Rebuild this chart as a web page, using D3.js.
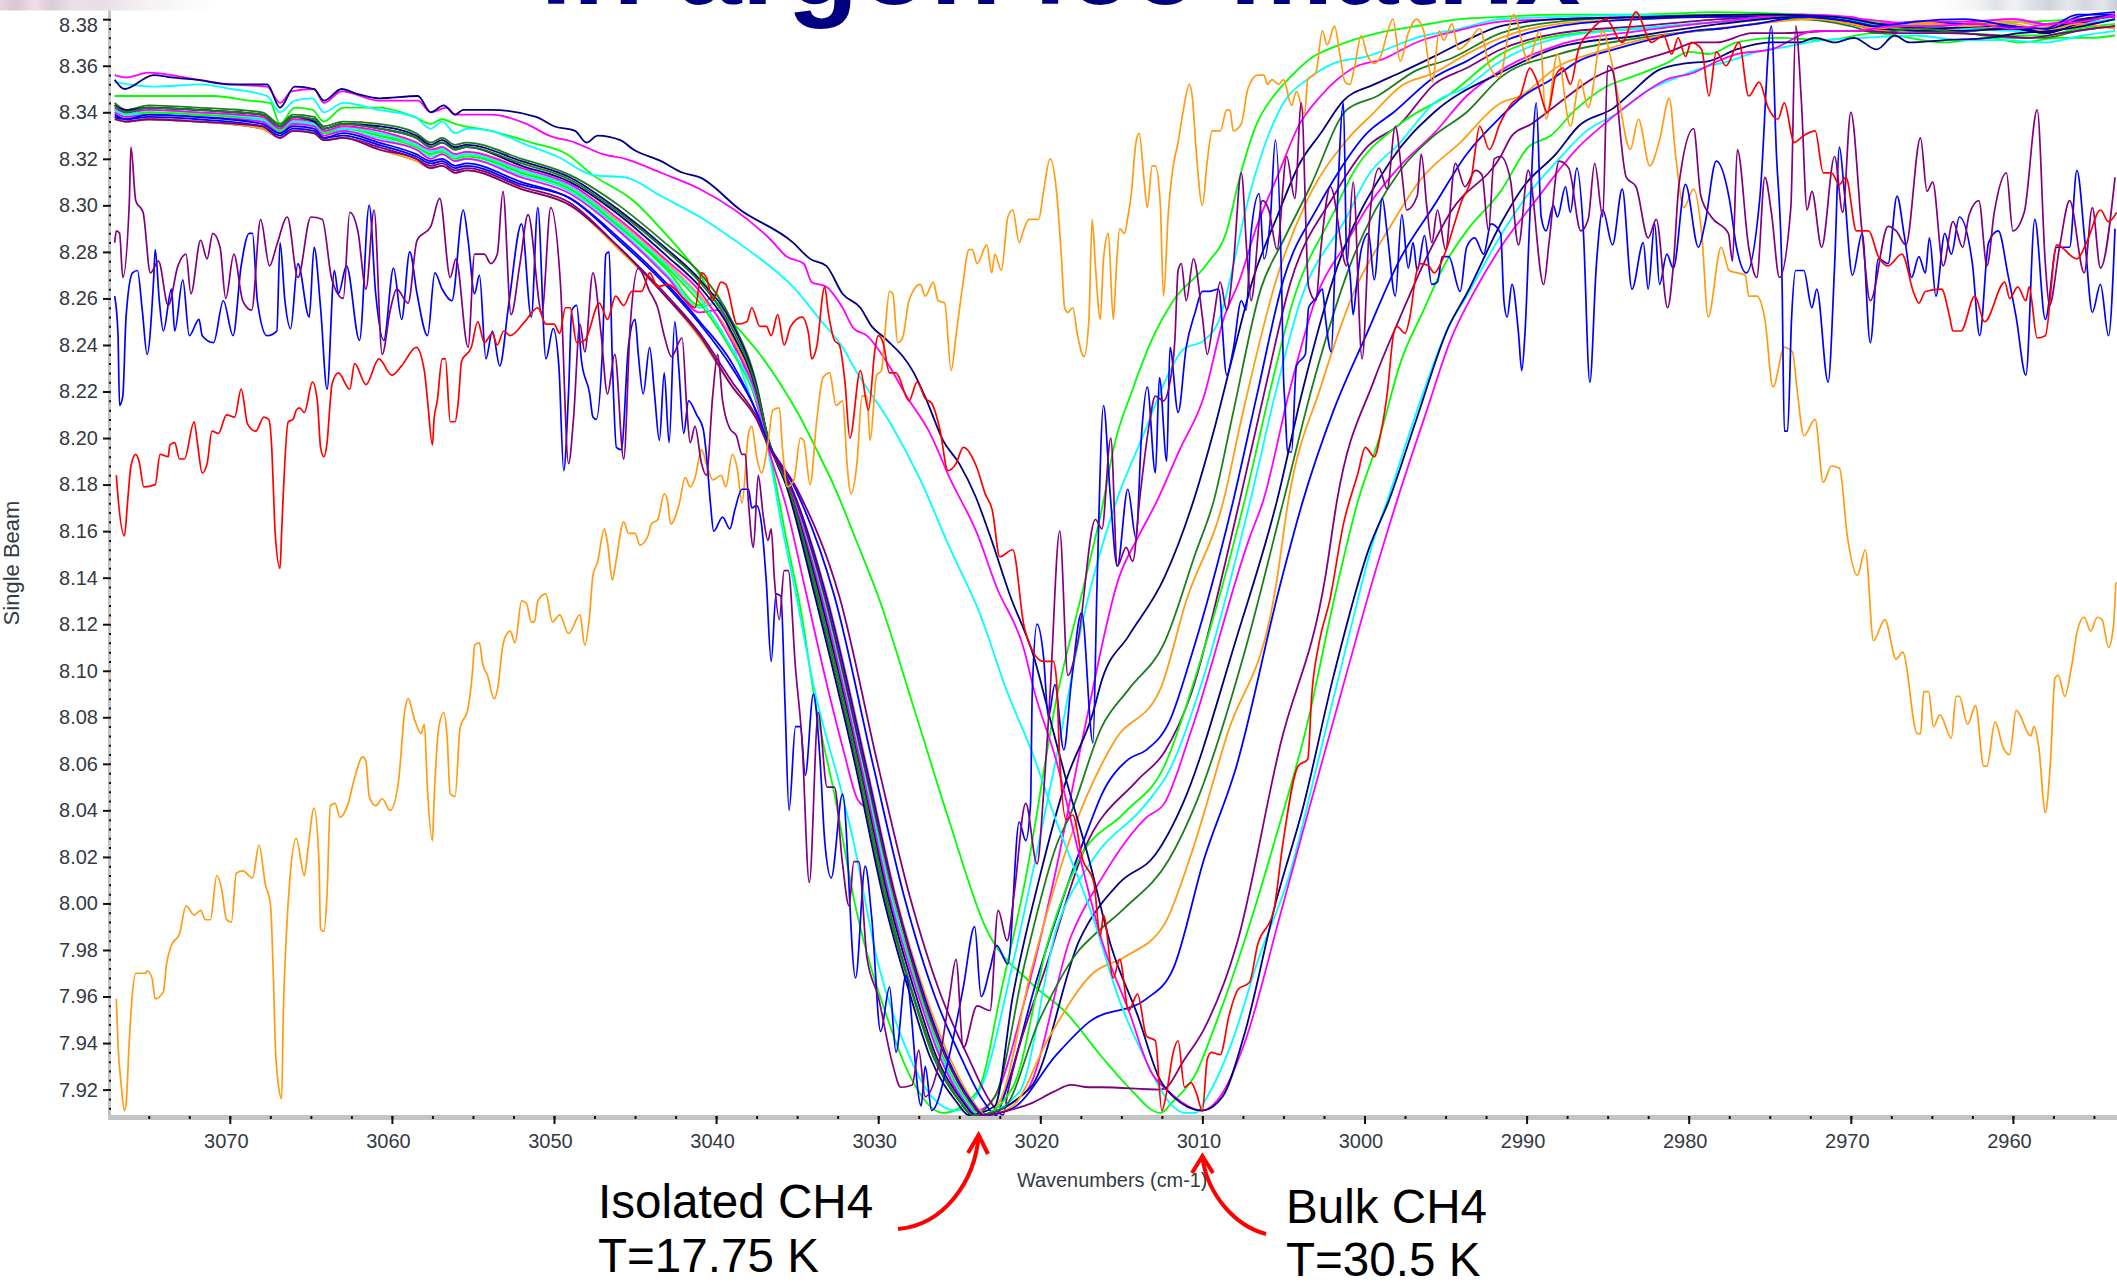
<!DOCTYPE html>
<html>
<head>
<meta charset="utf-8">
<script src="https://cdn.jsdelivr.net/npm/d3@7"></script>
<style>
  html, body { margin: 0; padding: 0; background: #fff; overflow: hidden; }
  text { font-family: "Liberation Sans", Arial, sans-serif; }
</style>
</head>
<body>
<div id="main_graphs"></div>
<script>
const yTickLabels = [8.38,8.36,8.34,8.32,8.30,8.28,8.26,8.24,8.22,8.20,8.18,8.16,8.14,8.12,8.10,8.08,8.06,8.04,8.02,8.00,7.98,7.96,7.94,7.92]
const xTickLabels = [3070,3060,3050,3040,3030,3020,3010,3000,2990,2980,2970,2960]

// noisy traces, [wavenumber, single beam]
const orangeNoisy = [[3077,7.959],[3076.9,7.94],[3076.7,7.922],[3076.5,7.911],[3076.4,7.914],[3076.2,7.941],[3076,7.962],[3075.8,7.97],[3075.2,7.97],[3075.1,7.971],[3074.8,7.968],[3074.6,7.959],[3074.1,7.962],[3073.9,7.974],[3073.6,7.982],[3073.1,7.987],[3072.7,7.999],[3072.2,7.995],[3071.8,7.997],[3071.5,7.993],[3071.2,7.993],[3070.8,8.012],[3070.5,8.006],[3070.2,7.993],[3069.9,7.992],[3069.6,8.013],[3069.2,8.014],[3068.6,8.011],[3068.2,8.025],[3067.8,8.008],[3067.5,8],[3067.3,7.966],[3067.2,7.94],[3067,7.922],[3066.8,7.916],[3066.7,7.952],[3066.5,7.988],[3066.3,8.01],[3065.9,8.028],[3065.4,8.012],[3065.2,8.022],[3064.8,8.041],[3064.5,8.018],[3064.4,7.989],[3064.2,7.988],[3064,8.004],[3063.8,8.042],[3063.5,8.043],[3063.2,8.037],[3062.7,8.043],[3062.3,8.054],[3061.8,8.063],[3061.6,8.061],[3061.4,8.046],[3061,8.042],[3060.6,8.045],[3060.1,8.04],[3059.6,8.052],[3059.2,8.083],[3059,8.088],[3058.6,8.079],[3058.2,8.073],[3058,8.077],[3057.8,8.048],[3057.5,8.027],[3057.4,8.044],[3057.1,8.076],[3056.8,8.082],[3056.6,8.072],[3056.4,8.047],[3056.1,8.046],[3055.8,8.075],[3055.3,8.084],[3055,8.102],[3054.9,8.111],[3054.6,8.112],[3054.4,8.103],[3054.1,8.098],[3053.7,8.088],[3053.4,8.096],[3053.2,8.109],[3052.9,8.116],[3052.7,8.117],[3052.4,8.112],[3052,8.13],[3051.7,8.129],[3051.4,8.121],[3051.2,8.121],[3051,8.13],[3050.5,8.133],[3050.1,8.121],[3049.65,8.124],[3049.1,8.116],[3048.4,8.124],[3048.1,8.111],[3047.8,8.124],[3047.6,8.141],[3047.3,8.147],[3046.9,8.161],[3046.7,8.155],[3046.4,8.139],[3046.2,8.146],[3045.7,8.164],[3045.4,8.159],[3045,8.159],[3044.7,8.154],[3044.2,8.158],[3044,8.163],[3043.6,8.165],[3043.2,8.176],[3043,8.173],[3042.8,8.163],[3042.3,8.171],[3041.9,8.183],[3041.6,8.179],[3041.3,8.183],[3040.9,8.195],[3040.6,8.189],[3040.2,8.182],[3039.7,8.184],[3039.4,8.179],[3039,8.193],[3038.7,8.187],[3038.4,8.172],[3038,8.202],[3037.8,8.205],[3037.5,8.192],[3037.2,8.185],[3036.8,8.198],[3036.5,8.212],[3036.1,8.213],[3035.9,8.195],[3035.6,8.179],[3035.2,8.182],[3034.8,8.2],[3034.6,8.199],[3034.2,8.18],[3033.8,8.207],[3033.4,8.226],[3033,8.228],[3032.6,8.214],[3032.2,8.216],[3031.9,8.187],[3031.7,8.176],[3031.3,8.19],[3031,8.218],[3030.7,8.218],[3030.5,8.199],[3030.1,8.227],[3029.8,8.229],[3029.6,8.244],[3029.3,8.263],[3029.1,8.262],[3028.8,8.241],[3028.5,8.243],[3028.1,8.259],[3027.4,8.266],[3027.1,8.261],[3026.6,8.267],[3026.3,8.259],[3025.9,8.258],[3025.5,8.229],[3025.2,8.244],[3024.8,8.265],[3024.4,8.281],[3024.2,8.281],[3023.9,8.275],[3023.3,8.283],[3023,8.271],[3022.8,8.279],[3022.4,8.272],[3022,8.295],[3021.7,8.298],[3021.3,8.284],[3021.05,8.289],[3020.7,8.294],[3020.1,8.294],[3019.8,8.306],[3019.4,8.32],[3019,8.306],[3018.7,8.278],[3018.5,8.256],[3018.3,8.254],[3018,8.256],[3017.7,8.244],[3017.3,8.235],[3017,8.251],[3016.8,8.294],[3016.6,8.274],[3016.3,8.251],[3016.1,8.277],[3015.8,8.288],[3015.5,8.251],[3015.3,8.274],[3015.1,8.29],[3014.8,8.288],[3014.6,8.295],[3014.4,8.304],[3014.1,8.327],[3013.9,8.331],[3013.6,8.311],[3013.4,8.299],[3013.1,8.317],[3012.9,8.317],[3012.6,8.301],[3012.4,8.261],[3012.1,8.297],[3011.8,8.317],[3011.5,8.327],[3011.2,8.34],[3010.8,8.352],[3010.6,8.345],[3010.4,8.325],[3010,8.3],[3009.7,8.319],[3009.4,8.332],[3008.9,8.332],[3008.5,8.341],[3008.3,8.341],[3008.1,8.332],[3007.6,8.335],[3007.2,8.35],[3006.6,8.356],[3006.2,8.356],[3006,8.352],[3005.7,8.354],[3005.3,8.352],[3005,8.354],[3004.5,8.343],[3004.2,8.349],[3003.7,8.339],[3003.5,8.354],[3003,8.357],[3002.6,8.375],[3002.3,8.369],[3001.85,8.377],[3001.5,8.364],[3001.2,8.353],[3000.9,8.352],[3000.6,8.36],[3000.2,8.373],[2999.85,8.365],[2999.4,8.361],[2999,8.364],[2998.6,8.374],[2998.25,8.38],[2997.8,8.362],[2997.3,8.374],[2996.8,8.38],[2996.35,8.375],[2995.8,8.353],[2995.4,8.375],[2995.1,8.371],[2994.6,8.378],[2994.2,8.367],[2993.5,8.371],[2992.9,8.376],[2992.3,8.36],[2991.7,8.355],[2990.8,8.382],[2989.9,8.362],[2989.2,8.375],[2988.8,8.337],[2988.1,8.365],[2987.3,8.334],[2986.7,8.354],[2986.2,8.342],[2985.3,8.375],[2984.8,8.363],[2984.3,8.345],[2983.6,8.324],[2983.1,8.337],[2982.4,8.317],[2981.8,8.328],[2981.2,8.346],[2980.8,8.321],[2980.3,8.299],[2979.7,8.307],[2979.2,8.288],[2978.8,8.252],[2978,8.282],[2977.5,8.272],[2976.5,8.27],[2976.3,8.261],[2975.8,8.261],[2975.3,8.251],[2974.8,8.222],[2974.1,8.239],[2973.6,8.237],[2973.3,8.22],[2972.9,8.201],[2972.2,8.208],[2971.7,8.181],[2971.2,8.188],[2970.7,8.187],[2970.2,8.157],[2969.6,8.141],[2969.1,8.152],[2968.6,8.113],[2967.9,8.122],[2967.2,8.105],[2966.8,8.108],[2965.9,8.073],[2965.7,8.073],[2965.5,8.091],[2965.2,8.091],[2964.9,8.076],[2964.5,8.081],[2963.8,8.071],[2963.5,8.089],[2963.3,8.089],[2962.8,8.077],[2962.3,8.085],[2961.8,8.059],[2961.6,8.059],[2961.1,8.078],[2960.6,8.067],[2960.2,8.064],[2959.8,8.083],[2958.9,8.072],[2958.7,8.076],[2958.4,8.067],[2958,8.039],[2957.7,8.059],[2957.4,8.097],[2957.2,8.098],[2956.8,8.089],[2956.4,8.101],[2956,8.118],[2955.6,8.123],[2955.2,8.117],[2954.8,8.123],[2954.5,8.122],[2954.1,8.11],[2953.8,8.119],[2953.65,8.138]]

const redNoisy = [[3077,8.184],[3076.9,8.175],[3076.5,8.158],[3076.3,8.173],[3076.1,8.188],[3075.8,8.193],[3075.6,8.19],[3075.3,8.179],[3074.6,8.18],[3074.3,8.193],[3073.8,8.192],[3073.7,8.197],[3073.4,8.198],[3073.1,8.191],[3072.8,8.191],[3072.2,8.207],[3072,8.198],[3071.7,8.185],[3071.4,8.189],[3071.1,8.203],[3070.7,8.202],[3070.2,8.21],[3069.7,8.209],[3069.3,8.221],[3068.9,8.206],[3068.4,8.203],[3067.9,8.209],[3067.6,8.208],[3067.4,8.194],[3067.3,8.176],[3067.2,8.159],[3066.9,8.144],[3066.8,8.16],[3066.7,8.176],[3066.4,8.207],[3066.1,8.208],[3065.9,8.212],[3065.7,8.213],[3065.4,8.211],[3064.9,8.224],[3064.6,8.216],[3064.4,8.196],[3064.2,8.192],[3064,8.198],[3063.8,8.216],[3063.7,8.223],[3063.3,8.228],[3062.6,8.221],[3062.3,8.232],[3061.6,8.223],[3060.8,8.234],[3060,8.227],[3059.4,8.231],[3058.5,8.239],[3058,8.229],[3057.8,8.216],[3057.5,8.197],[3057.4,8.208],[3057.2,8.216],[3056.9,8.234],[3056.7,8.234],[3056.4,8.207],[3056.1,8.207],[3055.9,8.216],[3055.7,8.233],[3055.1,8.239],[3054.7,8.25],[3054.3,8.241],[3053.8,8.245],[3053.5,8.24],[3053.1,8.246],[3052.7,8.244],[3051.8,8.25],[3051,8.256],[3050.5,8.249],[3050,8.249],[3049.65,8.245],[3049.3,8.256],[3049,8.256],[3048.6,8.241],[3048.1,8.242],[3047.2,8.258],[3046.7,8.251],[3046.2,8.261],[3045.7,8.257],[3045.2,8.263],[3044.6,8.263],[3044.1,8.271],[3043.6,8.265],[3043,8.266],[3042,8.26],[3041.3,8.256],[3040.9,8.271],[3040.6,8.269],[3040.2,8.259],[3039.7,8.267],[3039.4,8.266],[3038.7,8.249],[3038.1,8.25],[3037.8,8.256],[3037.3,8.248],[3036.9,8.248],[3036.6,8.244],[3036.2,8.253],[3035.8,8.24],[3035.4,8.248],[3034.7,8.252],[3034.3,8.245],[3034.1,8.234],[3033.8,8.239],[3033.3,8.265],[3033.1,8.255],[3032.7,8.242],[3032.4,8.24],[3032.05,8.224],[3031.75,8.2],[3031.1,8.229],[3030.6,8.212],[3030.2,8.238],[3030,8.244],[3029.7,8.241],[3029.3,8.228],[3028.9,8.228],[3028.1,8.216],[3027.6,8.224],[3027.1,8.217],[3026.7,8.215],[3026.2,8.204],[3025.7,8.186],[3025.2,8.189],[3024.75,8.196],[3023.9,8.187],[3023.4,8.176],[3022.96,8.169],[3022.5,8.149],[3021.7,8.152],[3021,8.119],[3020.75,8.113],[3019.8,8.104],[3019.2,8.104],[3019,8.096],[3018.8,8.061],[3018.4,8.036],[3018,8.038],[3017.4,8.019],[3016.7,8.009],[3016.3,7.986],[3016.1,7.995],[3015.5,7.968],[3015.1,7.976],[3014.55,7.954],[3014,7.961],[3013.45,7.943],[3012.9,7.941],[3012.5,7.911],[3012.2,7.919],[3011.8,7.936],[3011.5,7.941],[3011.1,7.921],[3010.7,7.923],[3010.4,7.919],[3010,7.911],[3009.7,7.933],[3009.45,7.936],[3008.9,7.935],[3008.35,7.952],[3007.8,7.963],[3007.1,7.966],[3006.6,7.982],[3005.6,7.997],[3005.05,8.025],[3004.1,8.059],[3003.5,8.062],[3003.25,8.09],[3002.8,8.112],[3002.15,8.13],[3001.3,8.163],[3000.4,8.185],[2999.95,8.196],[2999.4,8.192],[2999,8.202],[2998.6,8.219],[2998.2,8.245],[2998,8.248],[2997.5,8.245],[2997.2,8.252],[2996.8,8.271],[2996.55,8.275],[2996.05,8.274],[2995.7,8.271],[2995.3,8.275],[2994.9,8.282],[2994.5,8.291],[2994,8.302],[2993.4,8.312],[2993.2,8.322],[2992.9,8.334],[2992.3,8.324],[2991.65,8.335],[2990.9,8.344],[2990.4,8.347],[2989.8,8.359],[2989.45,8.355],[2988.7,8.34],[2988.2,8.356],[2987.75,8.359],[2987.3,8.352],[2986.8,8.367],[2986.05,8.375],[2985.1,8.38],[2984.1,8.37],[2983.25,8.383],[2982.3,8.37],[2981.55,8.373],[2981.05,8.365],[2980.65,8.372],[2980.2,8.364],[2979.85,8.37],[2979.2,8.367],[2978.75,8.347],[2978.3,8.366],[2977.7,8.36],[2976.9,8.37],[2976.3,8.347],[2975.65,8.353],[2975.1,8.342],[2974.5,8.337],[2974.1,8.344],[2973.5,8.327],[2972.9,8.33],[2972.2,8.332],[2971.7,8.314],[2971.2,8.314],[2970.7,8.309],[2970.3,8.312],[2969.65,8.289],[2968.9,8.289],[2968.3,8.278],[2967.7,8.274],[2966.85,8.279],[2966.1,8.262],[2965.8,8.258],[2965.4,8.263],[2964.4,8.264],[2963.9,8.252],[2963.7,8.246],[2963.2,8.246],[2962.35,8.261],[2961.75,8.25],[2960.5,8.267],[2960.2,8.26],[2959.7,8.265],[2959.2,8.259],[2959,8.265],[2958.5,8.243],[2958,8.244],[2957.3,8.283],[2956.05,8.277],[2955.4,8.285],[2954.6,8.298],[2954.1,8.293],[2953.6,8.297]]

const blueNoisy = [[3077.1,8.261],[3076.9,8.245],[3076.8,8.214],[3076.6,8.218],[3076.4,8.252],[3076,8.271],[3075.7,8.272],[3075.4,8.255],[3075.1,8.236],[3074.7,8.268],[3074.6,8.281],[3074.35,8.259],[3074.1,8.246],[3073.6,8.264],[3073.4,8.246],[3072.9,8.268],[3072.5,8.244],[3071.9,8.251],[3071.7,8.244],[3071,8.241],[3070.4,8.259],[3069.8,8.244],[3069.3,8.274],[3068.8,8.288],[3068.6,8.288],[3068.3,8.259],[3067.7,8.244],[3067.1,8.246],[3066.9,8.284],[3066.6,8.259],[3066.25,8.247],[3065.8,8.275],[3065.1,8.252],[3064.8,8.282],[3064.4,8.256],[3064,8.221],[3063.55,8.272],[3063.3,8.262],[3062.8,8.274],[3062,8.242],[3061.4,8.3],[3061,8.262],[3060.5,8.242],[3059.9,8.273],[3059.4,8.251],[3058.9,8.28],[3058.45,8.262],[3057.8,8.244],[3057.35,8.271],[3056.9,8.264],[3056.3,8.259],[3055.6,8.298],[3055.3,8.285],[3054.9,8.262],[3054.6,8.27],[3054.2,8.234],[3053.8,8.246],[3053.35,8.231],[3052.8,8.257],[3052,8.292],[3051.4,8.252],[3051,8.299],[3050.5,8.234],[3050.05,8.247],[3049.7,8.231],[3049.4,8.186],[3049.1,8.22],[3048.9,8.255],[3048.6,8.257],[3048.3,8.233],[3047.8,8.219],[3047.6,8.209],[3047.4,8.208],[3047,8.24],[3046.8,8.279],[3046.6,8.28],[3046.4,8.233],[3046.15,8.196],[3045.85,8.195],[3045.4,8.24],[3045,8.251],[3044.8,8.236],[3044.5,8.219],[3044.1,8.239],[3043.8,8.219],[3043.5,8.199],[3043.2,8.228],[3042.9,8.198],[3042.55,8.25],[3042.3,8.23],[3042,8.202],[3041.7,8.216],[3041.2,8.21],[3040.8,8.204],[3040.6,8.193],[3040.35,8.172],[3040.15,8.16],[3039.6,8.166],[3039.15,8.161],[3038.85,8.169],[3038.4,8.178],[3038,8.178],[3037.8,8.17],[3037.5,8.171],[3037.2,8.163],[3036.9,8.138],[3036.6,8.104],[3036.3,8.133],[3036,8.132],[3035.75,8.086],[3035.5,8.04],[3035.1,8.076],[3034.8,8.076],[3034.5,8.055],[3034,8.09],[3033.6,8.063],[3033.3,8.027],[3032.9,8.011],[3032.2,8.047],[3031.4,7.968],[3030.8,8.016],[3030.4,7.994],[3029.85,7.945],[3029.3,7.964],[3028.9,7.936],[3028.3,7.969],[3027.35,7.913],[3027.1,7.93],[3026.7,7.911],[3025.6,7.935],[3024.75,7.964],[3024.05,7.99],[3023.65,7.96],[3023.1,7.972],[3022.7,7.982],[3022,7.974],[3021.3,8.035],[3020.9,8.027],[3020.6,8.043],[3020.5,8.09],[3020.2,8.12],[3019.8,8.106],[3019.5,8.08],[3019.1,8.094],[3018.55,8.066],[3018.1,8.094],[3017.45,8.125],[3016.75,8.069],[3016.5,8.137],[3016.1,8.214],[3015.7,8.177],[3015.25,8.145],[3014.6,8.178],[3014.1,8.157],[3013.75,8.202],[3013.4,8.222],[3012.9,8.185],[3012.65,8.226],[3012.2,8.19],[3012,8.239],[3011.5,8.211],[3011,8.239],[3010.45,8.254],[3010,8.263],[3009.6,8.263],[3009,8.264],[3008.5,8.227],[3008.1,8.238],[3007.6,8.259],[3007.3,8.255],[3007,8.288],[3006.5,8.305],[3006.2,8.277],[3005.8,8.295],[3005.5,8.328],[3005.1,8.262],[3005,8.227],[3004.9,8.214],[3004.75,8.194],[3004.5,8.194],[3004.2,8.231],[3003.65,8.236],[3003.45,8.256],[3003,8.26],[3002.6,8.264],[3002.4,8.251],[3002.05,8.237],[3001.8,8.278],[3001.3,8.344],[3001.1,8.278],[3000.9,8.271],[3000.7,8.253],[3000.5,8.265],[3000.2,8.281],[2999.75,8.288],[2999.4,8.268],[2998.9,8.303],[2998.6,8.288],[2998.1,8.261],[2997.7,8.296],[2997.3,8.273],[2997,8.284],[2996.75,8.272],[2996.3,8.287],[2995.85,8.266],[2995.5,8.267],[2995.2,8.278],[2994.8,8.278],[2994.1,8.263],[2993.7,8.282],[2993.2,8.286],[2992.65,8.279],[2992.2,8.292],[2991.6,8.288],[2991.4,8.259],[2991.2,8.252],[2990.9,8.266],[2990.5,8.245],[2990.3,8.229],[2990.1,8.245],[2989.8,8.295],[2989.4,8.344],[2989.1,8.295],[2988.8,8.289],[2988.35,8.3],[2988.1,8.295],[2987.6,8.308],[2987.3,8.297],[2986.9,8.316],[2986.5,8.289],[2986.1,8.224],[2985.7,8.274],[2985.3,8.298],[2984.7,8.283],[2984.1,8.307],[2983.5,8.264],[2982.8,8.284],[2982.5,8.264],[2982.1,8.292],[2981.8,8.266],[2981.35,8.279],[2980.95,8.273],[2980.2,8.309],[2979.4,8.282],[2979,8.292],[2978.3,8.319],[2977.5,8.303],[2977.05,8.282],[2976.45,8.271],[2975.6,8.304],[2974.9,8.377],[2974.6,8.324],[2974.25,8.271],[2974.1,8.203],[2973.9,8.203],[2973.65,8.252],[2973.4,8.272],[2972.9,8.272],[2972.4,8.256],[2972.1,8.264],[2971.4,8.224],[2971,8.274],[2970.7,8.325],[2970.4,8.306],[2969.9,8.27],[2969.3,8.288],[2968.8,8.241],[2968.3,8.277],[2967.7,8.275],[2967.15,8.304],[2966.7,8.287],[2966.25,8.269],[2965.8,8.278],[2965.4,8.271],[2965.15,8.286],[2964.75,8.261],[2964.2,8.288],[2963.8,8.279],[2963.3,8.295],[2962.5,8.275],[2962.05,8.244],[2961.5,8.284],[2960.9,8.289],[2960.3,8.27],[2959.8,8.252],[2959.2,8.227],[2958.65,8.294],[2958,8.251],[2957.3,8.282],[2956.5,8.282],[2956.05,8.315],[2955.55,8.284],[2955.1,8.254],[2954.6,8.266],[2954.1,8.244],[2953.7,8.29]]

const purpleNoisy = [[3077.1,8.284],[3077,8.289],[3076.8,8.288],[3076.6,8.269],[3076.2,8.301],[3076.1,8.325],[3075.8,8.302],[3075.35,8.297],[3074.9,8.271],[3074.4,8.276],[3073.8,8.257],[3073.2,8.274],[3072.7,8.279],[3072.4,8.262],[3071.8,8.285],[3071.4,8.277],[3071.05,8.288],[3070.6,8.282],[3070.25,8.26],[3069.75,8.279],[3069.2,8.259],[3068.65,8.255],[3068.1,8.294],[3067.55,8.274],[3067.1,8.283],[3066.45,8.295],[3065.8,8.269],[3065,8.295],[3064.3,8.294],[3063.7,8.268],[3063,8.26],[3062.6,8.297],[3062.1,8.289],[3061.6,8.264],[3061.1,8.298],[3060.6,8.236],[3060.1,8.255],[3059.7,8.264],[3059,8.258],[3058.45,8.285],[3057.6,8.291],[3057.05,8.303],[3056.4,8.269],[3056.05,8.277],[3055.3,8.239],[3054.9,8.279],[3054.3,8.279],[3053.9,8.275],[3053.5,8.279],[3053.15,8.306],[3052.65,8.253],[3052.1,8.275],[3051.6,8.296],[3050.75,8.254],[3050.2,8.299],[3049.6,8.266],[3049.1,8.189],[3048.8,8.208],[3048.4,8.249],[3048.1,8.237],[3047.6,8.271],[3047.1,8.245],[3046.7,8.219],[3046.25,8.236],[3045.7,8.191],[3045.3,8.248],[3044.8,8.273],[3044.1,8.263],[3043.6,8.256],[3043.2,8.244],[3042.75,8.235],[3042.1,8.243],[3041.8,8.212],[3041.6,8.198],[3041.3,8.205],[3040.9,8.189],[3040.6,8.184],[3040.2,8.219],[3039.9,8.236],[3039.6,8.216],[3039.15,8.204],[3038.75,8.201],[3038.4,8.193],[3038.2,8.193],[3038,8.172],[3037.7,8.153],[3037.4,8.184],[3037.1,8.167],[3036.8,8.156],[3036.6,8.161],[3036.4,8.139],[3036.1,8.122],[3035.8,8.143],[3035.55,8.143],[3035.1,8.101],[3034.7,8.07],[3034.25,8.009],[3033.7,8.082],[3033.15,8.05],[3032.7,8.05],[3032.2,8.017],[3031.8,7.999],[3031.5,8.018],[3031.2,8.018],[3030.7,7.977],[3030,7.96],[3029.15,7.932],[3028.6,7.921],[3027.9,7.922],[3027.5,7.937],[3027.1,7.917],[3026.3,7.93],[3025.6,7.96],[3025.2,7.976],[3024.75,7.938],[3023.9,7.956],[3023.1,7.954],[3022.6,7.997],[3022.05,7.984],[3021.6,8.005],[3020.9,8.043],[3020.2,8.017],[3019.8,8.047],[3019.4,8.09],[3018.8,8.16],[3018.3,8.098],[3017.7,8.112],[3016.6,8.165],[3016.2,8.161],[3015.65,8.2],[3015.25,8.145],[3014.7,8.153],[3014.3,8.147],[3013.85,8.175],[3013.3,8.205],[3012.9,8.218],[3012.4,8.216],[3012,8.224],[3011.7,8.242],[3011.5,8.272],[3011.3,8.275],[3011,8.259],[3010.55,8.277],[3010,8.252],[3009.7,8.236],[3009.3,8.252],[3008.9,8.267],[3008.5,8.255],[3008.1,8.274],[3007.6,8.314],[3007.25,8.279],[3007,8.259],[3006.3,8.302],[3005.9,8.298],[3005.4,8.281],[3004.8,8.321],[3004.3,8.303],[3003.9,8.344],[3003.45,8.265],[3003,8.259],[3002.7,8.281],[3002.1,8.308],[3001.1,8.274],[3000.7,8.31],[3000.15,8.234],[2999.65,8.297],[2999.1,8.316],[2998.6,8.307],[2998.1,8.334],[2997.7,8.314],[2997.4,8.298],[2996.75,8.304],[2996.5,8.322],[2996.15,8.299],[2995.85,8.284],[2995.5,8.298],[2995,8.281],[2994.4,8.318],[2993.8,8.308],[2993.15,8.315],[2992.75,8.313],[2992.35,8.289],[2992,8.32],[2991.6,8.321],[2991,8.311],[2990.5,8.283],[2989.9,8.315],[2988.95,8.266],[2988.6,8.285],[2988,8.319],[2987.4,8.316],[2986.65,8.289],[2986.2,8.294],[2985.8,8.318],[2985.3,8.295],[2985,8.36],[2984.7,8.358],[2983.85,8.312],[2983.25,8.308],[2982.5,8.286],[2982,8.294],[2981.3,8.256],[2980.95,8.274],[2980.6,8.309],[2979.7,8.333],[2979.25,8.304],[2978.6,8.295],[2977.55,8.288],[2977.3,8.276],[2977,8.324],[2976.3,8.282],[2975.8,8.269],[2975.3,8.312],[2974.9,8.297],[2974.4,8.269],[2973.7,8.299],[2973.4,8.377],[2973.05,8.345],[2972.7,8.298],[2972.4,8.306],[2971.8,8.282],[2971,8.321],[2970.5,8.297],[2970,8.34],[2969.3,8.288],[2968.8,8.259],[2967.7,8.291],[2967.2,8.289],[2966.6,8.283],[2965.7,8.329],[2965.3,8.306],[2964.95,8.31],[2964.3,8.274],[2963.7,8.293],[2963.1,8.282],[2962.7,8.296],[2962.1,8.302],[2961.6,8.274],[2961.15,8.297],[2960.4,8.314],[2960,8.289],[2959.3,8.297],[2958.5,8.341],[2958,8.275],[2957.75,8.257],[2957.1,8.283],[2956.5,8.302],[2955.6,8.271],[2955.1,8.299],[2954.6,8.273],[2953.7,8.312]]

// the four curves that stay apart on the shoulder
const navyBulk = [[3077.1,8.354],[3076.5,8.35],[3074.7,8.356],[3073.6,8.355],[3072.1,8.354],[3069.9,8.352],[3067.7,8.352],[3066.9,8.342],[3066,8.351],[3064.8,8.35],[3064.2,8.345],[3063.1,8.35],[3062.2,8.348],[3060.8,8.346],[3058.4,8.347],[3057.6,8.34],[3056.8,8.343],[3056.1,8.339],[3055.6,8.341],[3053.9,8.341],[3051.1,8.338],[3050,8.334],[3048.7,8.332],[3048,8.327],[3047.3,8.33],[3045.9,8.328],[3045.1,8.324],[3043.4,8.319],[3042.05,8.314],[3041,8.312],[3038.5,8.298],[3035.25,8.284],[3034.2,8.277],[3033.2,8.274],[3032.2,8.262],[3031.1,8.256],[3030.4,8.248],[3029.6,8.243],[3027.8,8.228],[3027,8.216],[3026,8.199],[3025,8.189],[3024,8.175],[3023.1,8.158],[3021.9,8.133],[3020.4,8.106],[3019.2,8.074],[3018.4,8.053],[3017,8.019],[3015.65,7.982],[3014,7.952],[3012.6,7.924],[3011.8,7.917],[3010,7.911],[3008.75,7.917],[3007.4,7.944],[3005.45,8.001],[3003.8,8.041],[3001.9,8.098],[2999.7,8.153],[2998.5,8.173],[2996.8,8.208],[2994.8,8.248],[2993.7,8.262],[2991.6,8.292],[2990.2,8.308],[2988.2,8.322],[2986.8,8.334],[2984.6,8.342],[2983.6,8.348],[2981.9,8.358],[2980.2,8.361],[2978.75,8.362],[2977.05,8.367],[2974.9,8.37],[2973.2,8.37],[2972.2,8.372],[2971,8.37],[2969.8,8.372],[2968.4,8.367],[2967.3,8.373],[2966.4,8.37],[2964.2,8.371],[2961.5,8.372],[2959.6,8.374],[2957.6,8.375],[2955.7,8.377],[2953.7,8.38]]

const magentaBulk = [[3077.1,8.356],[3076.4,8.355],[3075,8.357],[3073.6,8.356],[3072,8.354],[3070,8.352],[3067.7,8.351],[3066.9,8.344],[3066.2,8.349],[3064.8,8.35],[3064.2,8.344],[3063.1,8.349],[3060.8,8.345],[3058.4,8.345],[3057.6,8.34],[3056.6,8.342],[3056.1,8.339],[3053.9,8.339],[3051.7,8.335],[3050.3,8.33],[3048.7,8.327],[3047,8.322],[3045.6,8.32],[3043.4,8.314],[3041,8.307],[3036.6,8.285],[3035.65,8.278],[3034.6,8.275],[3034.1,8.267],[3033.2,8.265],[3032.2,8.256],[3031.5,8.247],[3030.7,8.244],[3029.5,8.233],[3028.25,8.218],[3026.8,8.202],[3025.6,8.183],[3023.9,8.159],[3022.7,8.136],[3021,8.109],[3020.4,8.092],[3019,8.061],[3017.6,8.021],[3016.2,7.984],[3014.55,7.954],[3013.2,7.928],[3012.05,7.919],[3010,7.911],[3008.9,7.917],[3007.4,7.94],[3005.2,7.995],[3003.25,8.045],[3001.3,8.094],[2999.4,8.141],[2998,8.173],[2996.15,8.212],[2994.7,8.242],[2993.3,8.262],[2991.6,8.282],[2989.45,8.302],[2986.8,8.325],[2985.2,8.335],[2983.4,8.345],[2981.4,8.354],[2979.7,8.357],[2978.5,8.361],[2977.05,8.365],[2974.9,8.367],[2972.2,8.375],[2969.8,8.375],[2967.3,8.377],[2964.9,8.377],[2962.5,8.378],[2960,8.376],[2957.6,8.378],[2955.7,8.379],[2953.7,8.382]]

const cyanBulk = [[3077.1,8.353],[3074.6,8.351],[3071.8,8.352],[3069.9,8.35],[3067.7,8.347],[3066.9,8.34],[3066,8.345],[3064.9,8.346],[3064.2,8.34],[3063,8.344],[3060.8,8.341],[3058.6,8.338],[3057.6,8.333],[3056.9,8.336],[3056.1,8.331],[3055.3,8.333],[3053.9,8.332],[3051.7,8.326],[3049.8,8.321],[3047.6,8.313],[3045.6,8.312],[3043.4,8.304],[3041,8.295],[3038.85,8.285],[3036.9,8.275],[3035.25,8.265],[3033.6,8.251],[3032.2,8.239],[3031.3,8.228],[3029.3,8.207],[3027.4,8.182],[3025.6,8.153],[3023.7,8.124],[3022.1,8.092],[3020.4,8.063],[3019,8.035],[3016.75,7.994],[3015.1,7.958],[3013.45,7.932],[3012.1,7.915],[3011.1,7.91],[3010.4,7.91],[3009.7,7.917],[3008.2,7.94],[3006.55,7.976],[3004.6,8.013],[3002.8,8.063],[3001,8.114],[2999.4,8.157],[2998.6,8.173],[2996.8,8.211],[2994.8,8.248],[2993.7,8.261],[2991.6,8.287],[2990.2,8.302],[2988,8.32],[2986.3,8.332],[2984.3,8.34],[2982.6,8.349],[2980.7,8.355],[2979.2,8.359],[2977.5,8.362],[2975.8,8.366],[2974.1,8.368],[2971.7,8.371],[2969.3,8.372],[2966.1,8.373],[2963,8.371],[2960.5,8.371],[2958.1,8.37],[2955.7,8.373],[2953.7,8.375]]

const limeBulk = [[3077.1,8.347],[3076,8.347],[3073.2,8.347],[3071,8.347],[3068.8,8.345],[3067.5,8.344],[3066.9,8.335],[3066,8.342],[3064.9,8.341],[3064.2,8.336],[3063,8.342],[3060.8,8.342],[3058.6,8.338],[3057.6,8.335],[3056.9,8.337],[3056.1,8.335],[3053.9,8.332],[3051.4,8.327],[3049.2,8.322],[3047.6,8.313],[3045.1,8.302],[3042.9,8.286],[3041,8.27],[3039.8,8.256],[3038.5,8.246],[3037.3,8.236],[3036.1,8.224],[3034.9,8.21],[3033.8,8.195],[3032.7,8.179],[3031.3,8.155],[3030,8.132],[3027.8,8.084],[3025.6,8.035],[3023.4,7.99],[3020.6,7.966],[3018.4,7.953],[3016.2,7.934],[3014.55,7.921],[3012.6,7.91],[3011.8,7.915],[3010.4,7.927],[3009.3,7.946],[3007.4,7.984],[3005.45,8.029],[3003.5,8.078],[3001.9,8.13],[3000.4,8.173],[2999,8.202],[2997.8,8.232],[2996.35,8.255],[2995.1,8.274],[2993.7,8.289],[2991.6,8.306],[2989.9,8.325],[2988.5,8.33],[2987,8.341],[2985.1,8.351],[2983.6,8.355],[2981.4,8.361],[2979.95,8.366],[2978.75,8.365],[2977.05,8.37],[2974.6,8.372],[2971.5,8.371],[2968.55,8.374],[2964.2,8.37],[2961.5,8.372],[2959.6,8.37],[2957.1,8.372],[2955.2,8.372],[2953.7,8.373]]

// the bunch shares one wavenumber grid along the shoulder
const shoulderW = [3077.1,3076.4,3075,3072,3068,3066.9,3066.1,3064.8,3064.2,3063,3060.8,3058.5,3057.6,3056.9,3056.1,3055.4,3052,3049,3046,3043,3041]

const shoulderGreen1 = [8.344,8.341,8.343,8.342,8.34,8.335,8.339,8.338,8.334,8.336,8.335,8.331,8.327,8.329,8.326,8.327,8.32,8.313,8.3,8.283,8.271]
const shoulderNavy1 = [8.343,8.341,8.342,8.341,8.339,8.334,8.338,8.337,8.333,8.335,8.334,8.33,8.326,8.328,8.325,8.326,8.319,8.312,8.298,8.281,8.268]
const shoulderGreen2 = [8.343,8.34,8.342,8.341,8.339,8.334,8.338,8.337,8.333,8.335,8.333,8.329,8.325,8.327,8.324,8.325,8.318,8.311,8.297,8.28,8.267]
const shoulderNavy2 = [8.343,8.34,8.342,8.341,8.339,8.334,8.338,8.336,8.333,8.335,8.333,8.329,8.325,8.327,8.324,8.325,8.317,8.31,8.296,8.278,8.265]
const shoulderMagenta2 = [8.342,8.34,8.341,8.34,8.338,8.333,8.337,8.336,8.332,8.334,8.332,8.327,8.324,8.325,8.322,8.323,8.316,8.309,8.294,8.276,8.263]
const shoulderOrange1 = [8.342,8.339,8.341,8.34,8.338,8.333,8.337,8.336,8.332,8.334,8.331,8.327,8.323,8.325,8.322,8.323,8.315,8.308,8.293,8.275,8.261]
const shoulderCyan2 = [8.341,8.339,8.341,8.34,8.337,8.333,8.336,8.335,8.332,8.333,8.331,8.326,8.323,8.324,8.321,8.322,8.315,8.308,8.292,8.274,8.26]
const shoulderLime2 = [8.341,8.339,8.34,8.339,8.337,8.332,8.336,8.335,8.331,8.333,8.33,8.326,8.322,8.324,8.321,8.322,8.314,8.307,8.291,8.273,8.258]
const shoulderLime1 = [8.341,8.339,8.34,8.339,8.337,8.332,8.336,8.335,8.331,8.333,8.33,8.325,8.322,8.323,8.32,8.321,8.314,8.307,8.291,8.272,8.257]
const shoulderCyan1 = [8.34,8.338,8.34,8.339,8.336,8.332,8.335,8.334,8.331,8.332,8.329,8.324,8.321,8.322,8.319,8.32,8.313,8.306,8.29,8.27,8.256]
const shoulderMagenta1 = [8.34,8.338,8.339,8.338,8.336,8.331,8.335,8.334,8.33,8.332,8.328,8.324,8.32,8.322,8.319,8.32,8.312,8.305,8.289,8.269,8.254]
const shoulderBlue1 = [8.339,8.337,8.339,8.338,8.335,8.331,8.334,8.333,8.329,8.331,8.327,8.322,8.319,8.32,8.317,8.318,8.31,8.303,8.286,8.266,8.25]
const shoulderBlue2 = [8.338,8.337,8.338,8.337,8.334,8.33,8.333,8.332,8.329,8.33,8.326,8.321,8.318,8.319,8.316,8.317,8.309,8.303,8.285,8.265,8.249]
const shoulderPurple1 = [8.338,8.336,8.337,8.336,8.333,8.329,8.332,8.331,8.328,8.329,8.325,8.32,8.317,8.318,8.315,8.316,8.308,8.301,8.282,8.261,8.245]
const shoulderOrange2 = [8.337,8.336,8.337,8.336,8.333,8.329,8.332,8.331,8.328,8.329,8.324,8.319,8.316,8.317,8.314,8.315,8.307,8.3,8.281,8.26,8.243]
const shoulderPurple2 = [8.337,8.336,8.337,8.336,8.334,8.329,8.332,8.331,8.328,8.329,8.324,8.32,8.316,8.317,8.314,8.315,8.307,8.3,8.282,8.26,8.244]

// rest of each bunch curve, past the shoulder
const restGreen1 = [[3039,8.25],[3037.5,8.223],[3036.8,8.2],[3035.55,8.178],[3033.8,8.132],[3031.3,8.059],[3029.6,8.003],[3027.85,7.96],[3026.6,7.934],[3025,7.915],[3024.2,7.909],[3022.8,7.917],[3020.9,7.976],[3019,8.025],[3018.1,8.039],[3016.2,8.076],[3014.55,8.092],[3012.35,8.112],[3010.4,8.151],[3009.3,8.173],[3008.1,8.211],[3006.4,8.264],[3005,8.285],[3003.35,8.308],[3001.1,8.341],[2999.2,8.347],[2996.8,8.358],[2994.7,8.363],[2991.6,8.374],[2988,8.379],[2983,8.381],[2978,8.382],[2973,8.382],[2970,8.379],[2968.3,8.376],[2966,8.377],[2963,8.376],[2960,8.376],[2958,8.374],[2956,8.379],[2953.7,8.382]]
const restNavy1 = [[3039,8.249],[3037.5,8.222],[3036.8,8.2],[3035.6,8.178],[3033.9,8.132],[3031.4,8.059],[3029.7,8.003],[3028,7.96],[3026.8,7.934],[3025.2,7.915],[3024.4,7.909],[3022.8,7.913],[3021.7,7.96],[3020.05,8.011],[3018.4,8.053],[3016.75,8.082],[3016.2,8.096],[3014.55,8.115],[3012.35,8.14],[3010.55,8.173],[3009.3,8.203],[3008.1,8.236],[3006.85,8.269],[3005.4,8.295],[3004,8.318],[3002.7,8.331],[3001.3,8.345],[2999.4,8.352],[2997.8,8.357],[2995.7,8.364],[2993.7,8.371],[2991.6,8.377],[2988,8.38],[2981.9,8.381],[2975.8,8.382],[2971,8.381],[2968.3,8.378],[2964.9,8.376],[2961.3,8.377],[2958.4,8.375],[2955.7,8.38],[2953.7,8.382]]
const restOrange1 = [[3039,8.243],[3037.5,8.218],[3036.8,8.199],[3035.35,8.178],[3033.3,8.132],[3030.8,8.059],[3029,8.003],[3027.2,7.96],[3025.8,7.934],[3024.3,7.915],[3023.5,7.909],[3022.5,7.915],[3020.6,7.97],[3018.1,8.029],[3015.4,8.07],[3012.6,8.092],[3011,8.13],[3008.7,8.173],[3007.5,8.211],[3005.4,8.269],[3003.55,8.302],[3001.1,8.328],[2999.4,8.34],[2997.8,8.351],[2995.7,8.357],[2993.7,8.365],[2991.6,8.372],[2988,8.378],[2983,8.38],[2978,8.381],[2973,8.38],[2970,8.378],[2968.3,8.375],[2966,8.378],[2963,8.378],[2960,8.379],[2958,8.377],[2956,8.377],[2953.7,8.376]]
const restBlue1 = [[3039,8.232],[3037.5,8.211],[3036.8,8.198],[3035.1,8.178],[3032.7,8.132],[3030.3,8.059],[3028.4,8.003],[3026.5,7.96],[3024.9,7.934],[3023.5,7.915],[3022.7,7.909],[3022.3,7.916],[3020.1,7.97],[3017,8.033],[3016.2,8.047],[3014.55,8.062],[3013.45,8.066],[3012.05,8.078],[3010.7,8.106],[3008.1,8.173],[3006.65,8.218],[3005,8.268],[3002.9,8.299],[3001.9,8.311],[2999.85,8.331],[2998.2,8.34],[2995.7,8.355],[2993.7,8.362],[2991.6,8.37],[2988,8.377],[2983,8.38],[2978,8.381],[2973,8.381],[2970,8.379],[2968.3,8.377],[2966,8.379],[2963,8.378],[2960,8.377],[2958,8.375],[2956,8.381],[2953.7,8.383]]
const restPurple1 = [[3039,8.224],[3037.5,8.209],[3036.8,8.198],[3035,8.178],[3032.4,8.132],[3030,8.059],[3028.05,8.003],[3026.1,7.96],[3024.45,7.934],[3023.1,7.915],[3022.3,7.909],[3022,7.919],[3019.5,7.976],[3017.3,8.023],[3014,8.053],[3012.35,8.065],[3010.7,8.09],[3008.5,8.149],[3007.7,8.173],[3006.2,8.219],[3004.6,8.266],[3001.9,8.304],[2999.85,8.325],[2997.8,8.335],[2995.7,8.352],[2993.7,8.359],[2991.6,8.367],[2988,8.374],[2983,8.377],[2978,8.38],[2973,8.381],[2970,8.378],[2968.3,8.376],[2966,8.376],[2963,8.375],[2960,8.376],[2958,8.374],[2956,8.379],[2953.7,8.381]]
const restLime2 = [[3039,8.237],[3037.5,8.216],[3036.8,8.199],[3035.4,8.178],[3033.4,8.132],[3030.9,8.059],[3029.15,8.003],[3027.35,7.96],[3026,7.934],[3024.5,7.915],[3023.7,7.909],[3021.7,7.921],[3019.5,7.984],[3017.6,8.019],[3014.8,8.039],[3012.35,8.059],[3010.4,8.098],[3007.4,8.173],[3005.8,8.221],[3004.4,8.259],[3001.9,8.297],[3000.7,8.314],[2997.8,8.335],[2994.7,8.348],[2991.6,8.365],[2988,8.373],[2983,8.376],[2978,8.379],[2973,8.381],[2970,8.38],[2968.3,8.377],[2966,8.375],[2963,8.374],[2960,8.373],[2958,8.373],[2956,8.376],[2953.7,8.378]]
const restCyan2 = [[3039,8.238],[3037.5,8.217],[3036.8,8.199],[3035.4,8.178],[3033.45,8.132],[3031,8.059],[3029.2,8.003],[3027.45,7.96],[3026.1,7.934],[3024.6,7.915],[3023.8,7.909],[3021.3,7.919],[3019,7.989],[3016.75,8.019],[3013.45,8.043],[3012.05,8.057],[3009.9,8.098],[3007.05,8.173],[3005.4,8.222],[3003.95,8.259],[3001.1,8.295],[2999.85,8.312],[2997.8,8.327],[2995.7,8.344],[2993.7,8.351],[2991.6,8.362],[2988,8.372],[2983,8.376],[2978,8.379],[2973,8.382],[2970,8.38],[2968.3,8.378],[2966,8.377],[2963,8.376],[2960,8.375],[2958,8.375],[2956,8.378],[2953.7,8.38]]
const restMagenta2 = [[3039,8.241],[3037.5,8.218],[3036.8,8.199],[3035.45,8.178],[3033.5,8.132],[3031.05,8.059],[3029.3,8.003],[3027.5,7.96],[3026.2,7.934],[3024.7,7.915],[3023.9,7.909],[3020.9,7.919],[3018.1,7.986],[3016.2,8.011],[3013.45,8.037],[3012.35,8.043],[3010.7,8.074],[3007.1,8.157],[3006.25,8.173],[3004.6,8.221],[3002.9,8.262],[3001.1,8.284],[2999.85,8.299],[2997.8,8.317],[2995.7,8.331],[2993.7,8.347],[2991.6,8.358],[2988,8.369],[2983,8.375],[2978,8.379],[2973,8.382],[2970,8.381],[2968.3,8.378],[2966,8.379],[2963,8.379],[2960,8.38],[2958,8.378],[2956,8.38],[2953.7,8.381]]
const restNavy2 = [[3039,8.245],[3037.5,8.22],[3036.8,8.2],[3035.5,8.178],[3033.6,8.132],[3031.15,8.059],[3029.4,8.003],[3027.65,7.96],[3026.4,7.934],[3024.8,7.915],[3024,7.909],[3020.6,7.921],[3017.6,7.984],[3015.1,8.009],[3012.9,8.021],[3011.2,8.043],[3007.9,8.114],[3005.4,8.173],[3003.8,8.221],[3001.9,8.269],[2998.4,8.319],[2995.7,8.34],[2991.6,8.357],[2988,8.368],[2983,8.373],[2978,8.378],[2973,8.381],[2970,8.379],[2968.3,8.376],[2966,8.375],[2963,8.375],[2960,8.376],[2958,8.374],[2956,8.378],[2953.7,8.382]]
const restGreen2 = [[3039,8.247],[3037.5,8.221],[3036.8,8.2],[3035.5,8.178],[3033.7,8.132],[3031.2,8.059],[3029.5,8.003],[3027.8,7.96],[3026.5,7.934],[3024.95,7.915],[3024.15,7.909],[3022.3,7.912],[3020.05,7.95],[3017.6,7.98],[3016.75,7.986],[3014.8,7.998],[3012.05,8.019],[3010.4,8.043],[3007.4,8.108],[3005,8.173],[3003.15,8.224],[3000.9,8.274],[2997.8,8.315],[2995.7,8.33],[2993.7,8.34],[2991.6,8.355],[2988,8.365],[2983,8.372],[2978,8.376],[2973,8.38],[2970,8.377],[2968.3,8.374],[2966,8.376],[2963,8.374],[2960,8.372],[2958,8.372],[2956,8.375],[2953.7,8.377]]
const restOrange2 = [[3039,8.222],[3037.5,8.208],[3036.8,8.197],[3035.3,8.178],[3033.15,8.132],[3030.7,8.059],[3028.9,8.003],[3027.05,7.96],[3025.6,7.934],[3024.15,7.915],[3023.35,7.909],[3021.7,7.913],[3019.5,7.942],[3016.75,7.97],[3014.8,7.977],[3012.35,7.991],[3010.7,8.021],[3008.5,8.072],[3005.45,8.137],[3004.7,8.173],[3002.7,8.222],[3000.7,8.262],[2998.4,8.291],[2996.55,8.311],[2994.1,8.327],[2991.6,8.344],[2990.4,8.347],[2988,8.36],[2985.6,8.366],[2982.4,8.372],[2979.5,8.375],[2975.8,8.378],[2972.2,8.38],[2970,8.378],[2968.3,8.376],[2966,8.379],[2963,8.377],[2960,8.378],[2958,8.375],[2956,8.378],[2953.7,8.376]]
const restBlue2 = [[3039,8.23],[3037.5,8.211],[3036.8,8.198],[3035.3,8.178],[3033.2,8.132],[3030.75,8.059],[3028.95,8.003],[3027.15,7.96],[3025.75,7.934],[3024.25,7.915],[3023.45,7.909],[3021.7,7.912],[3019,7.935],[3017,7.949],[3013.45,7.959],[3011.8,7.972],[3009.9,8.019],[3007.9,8.059],[3005.2,8.137],[3003.8,8.173],[3001.9,8.212],[2999.85,8.245],[2997.8,8.277],[2995.7,8.3],[2993.7,8.322],[2991.6,8.338],[2990.2,8.347],[2988.5,8.354],[2986.8,8.362],[2984.6,8.367],[2981.9,8.372],[2979.7,8.375],[2978,8.376],[2975.8,8.378],[2973,8.381],[2970,8.379],[2968.3,8.377],[2966,8.379],[2963,8.38],[2960,8.377],[2958,8.376],[2956,8.382],[2953.7,8.382]]
const restPurple2 = [[3039,8.222],[3037.5,8.208],[3036.8,8.197],[3035.35,8.178],[3033.3,8.132],[3030.85,8.059],[3029,8.003],[3027.25,7.96],[3025.85,7.934],[3024.35,7.915],[3023.55,7.909],[3022,7.911],[3020.6,7.914],[3019.2,7.919],[3018.1,7.922],[3017,7.921],[3016.2,7.921],[3012.6,7.92],[3012.2,7.921],[3011.2,7.932],[3009.9,7.946],[3007.9,7.982],[3005.2,8.068],[3002.4,8.141],[3001.7,8.173],[2999.4,8.225],[2997.8,8.252],[2996.35,8.275],[2994.7,8.297],[2991.6,8.321],[2990.9,8.33],[2989.7,8.335],[2988,8.344],[2985.8,8.355],[2983.1,8.362],[2981.2,8.366],[2979.5,8.37],[2978.3,8.37],[2976.1,8.374],[2974.1,8.374],[2971,8.375],[2969,8.375],[2967,8.374],[2964,8.374],[2961,8.373],[2959,8.372],[2957,8.374],[2955,8.376],[2953.7,8.377]]
const restLime1 = [[3040,8.262],[3039.4,8.251],[3038.3,8.233],[3037.3,8.213],[3036.5,8.187],[3035.65,8.156],[3034.8,8.127],[3033.8,8.083],[3032.7,8.047],[3031.35,7.997],[3029.4,7.95],[3028.05,7.926],[3026,7.91],[3023.9,7.919],[3022.3,7.966],[3020.9,8.011],[3019,8.088],[3017.3,8.137],[3016.1,8.173],[3015.5,8.195],[3014.3,8.221],[3013.2,8.241],[3011.8,8.259],[3009.7,8.275],[3008.5,8.289],[3007.7,8.312],[3006.65,8.335],[3005.6,8.347],[3004.6,8.355],[3003.15,8.364],[3001.9,8.368],[2999.2,8.374],[2996.8,8.377],[2994.1,8.38],[2991.6,8.381],[2988,8.382],[2983.1,8.382],[2978.3,8.383],[2973.4,8.382],[2969.8,8.38],[2967.3,8.378],[2963.7,8.378],[2958.8,8.379],[2953.7,8.381]]
const restCyan1 = [[3040,8.258],[3038.5,8.23],[3037.5,8.21],[3036.8,8.195],[3036,8.164],[3035.05,8.132],[3034,8.094],[3032.15,8.045],[3031.6,8.029],[3030,7.974],[3028.3,7.938],[3026.7,7.917],[3025.2,7.911],[3023.8,7.919],[3021.7,7.974],[3020.3,8.019],[3019,8.063],[3017.3,8.124],[3015.3,8.173],[3013.6,8.202],[3012.2,8.226],[3011.2,8.238],[3009.9,8.242],[3008.9,8.252],[3008.1,8.274],[3007.3,8.299],[3006.2,8.325],[3005,8.344],[3003.55,8.354],[3001.9,8.361],[2999.85,8.364],[2996.8,8.372],[2994.1,8.376],[2991.6,8.38],[2988,8.381],[2983.1,8.382],[2978.3,8.381],[2972.2,8.382],[2968.55,8.378],[2964.9,8.376],[2960,8.379],[2956.4,8.377],[2953.7,8.38]]
const restMagenta1 = [[3039.9,8.255],[3038.75,8.239],[3037.5,8.215],[3036.8,8.196],[3035.65,8.17],[3034.5,8.135],[3033.4,8.101],[3032.15,8.066],[3031.3,8.045],[3030.5,8.039],[3028.6,7.988],[3026.95,7.95],[3025.3,7.921],[3023.9,7.911],[3022.8,7.917],[3020.9,7.96],[3019.2,8.009],[3017.3,8.074],[3015.1,8.141],[3014,8.157],[3012.8,8.173],[3011.4,8.195],[3009.9,8.218],[3008.7,8.251],[3007.7,8.268],[3006.65,8.291],[3005.4,8.312],[3004,8.335],[3002.7,8.347],[3000.7,8.359],[2998.8,8.363],[2996.8,8.37],[2994.3,8.375],[2991.6,8.379],[2988,8.38],[2983.1,8.381],[2978.3,8.381],[2973.4,8.382],[2967.8,8.379],[2964.9,8.377],[2960,8.38],[2957.1,8.377],[2953.7,8.38]]

const navy = "#000080", green = "#1e7d1e", orange = "#ff9c14", blue = "#0000ff", purple = "#800080", lime = "#00ff00", cyan = "#00ffff", magenta = "#ff00ff", red = "#ff0000"

// shoulder grid + rest of the curve
function joined(shoulder, rest) {
    return shoulder.map(function(v, i) { return [shoulderW[i], v] }).concat(rest)
}

const curves = [
    {points: limeBulk, color: lime},
    {points: joined(shoulderLime1, restLime1), color: lime},
    {points: joined(shoulderCyan1, restCyan1), color: cyan},
    {points: joined(shoulderMagenta1, restMagenta1), color: magenta},
    {points: joined(shoulderGreen1, restGreen1), color: green},
    {points: joined(shoulderOrange1, restOrange1), color: orange},
    {points: joined(shoulderBlue1, restBlue1), color: blue},
    {points: joined(shoulderPurple1, restPurple1), color: purple},
    {points: joined(shoulderLime2, restLime2), color: lime},
    {points: joined(shoulderCyan2, restCyan2), color: cyan},
    {points: joined(shoulderMagenta2, restMagenta2), color: magenta},
    {points: joined(shoulderNavy1, restNavy1), color: navy},
    {points: joined(shoulderNavy2, restNavy2), color: navy},
    {points: joined(shoulderGreen2, restGreen2), color: green},
    {points: joined(shoulderOrange2, restOrange2), color: orange},
    {points: joined(shoulderBlue2, restBlue2), color: blue},
    {points: joined(shoulderPurple2, restPurple2), color: purple},
    {points: cyanBulk, color: cyan},
    {points: magentaBulk, color: magenta},
    {points: navyBulk, color: navy},
]
const noisyCurves = [
    {points: orangeNoisy, color: orange},
    {points: blueNoisy, color: blue},
    {points: purpleNoisy, color: purple},
    {points: redNoisy, color: red},
]

const width = 2117
const height = 1286

const x = d3.scaleLinear().domain([3070, 3010]).range([229.8, 1202.4])
const y = d3.scaleLinear().domain([8.38, 7.92]).range([19.2, 1089.6])

const svg = d3.select('#main_graphs')
    .append("svg")
    .attr("width", width)
    .attr("height", height)
    .style("display", "block")

// washed out remains of the slide background along the top edge
const defs = svg.append("defs")
const leftFade = defs.append("linearGradient").attr("id", "leftFade")
const leftStops = [[0,"#e6d3de"],[0.08,"#d9c6d6"],[0.16,"#efdfe8"],[0.24,"#dccbd8"],[0.34,"#ecdfe8"],[0.48,"#e8dde6"],[0.62,"#f3edf1"],[0.8,"#f9f6f8"],[1,"#ffffff"]]
leftFade.selectAll("stop").data(leftStops).enter().append("stop")
    .attr("offset", function(d) { return d[0] })
    .attr("stop-color", function(d) { return d[1] })
const rightFade = defs.append("linearGradient").attr("id", "rightFade")
const rightStops = [[0,"#ffffff"],[0.2,"#f3f3f4"],[0.32,"#dfe3e8"],[0.42,"#f1f2f4"],[0.5,"#dfe4ea"],[0.62,"#ccd4dc"],[0.72,"#e6e9ec"],[0.82,"#d3d8de"],[0.92,"#e4e6ea"],[1,"#c9ced6"]]
rightFade.selectAll("stop").data(rightStops).enter().append("stop")
    .attr("offset", function(d) { return d[0] })
    .attr("stop-color", function(d) { return d[1] })
svg.append("rect").attr("x", 0).attr("y", 0).attr("width", 215).attr("height", 10.5).attr("fill", "url(#leftFade)")
svg.append("rect").attr("x", 1940).attr("y", 0).attr("width", 177).attr("height", 10.5).attr("fill", "url(#rightFade)")

svg.append("text")
    .attr("x", 540)
    .attr("y", 4)
    .attr("font-size", 117)
    .attr("font-weight", "bold")
    .attr("fill", "#000080")
    .text("in argon ice matrix")

// axis bands
svg.append("rect").attr("x", 108).attr("y", 10.5).attr("width", 3).attr("height", 1109.5).attr("fill", "#c4c4c4")
svg.append("rect").attr("x", 108).attr("y", 1115).attr("width", width - 108).attr("height", 5).attr("fill", "#c4c4c4")

const line = d3.line()
    .x(function(d) { return x(d[0]) })
    .y(function(d) { return y(d[1]) })
    .curve(d3.curveMonotoneX)

function drawCurves(list, sw) {
    svg.append("g").selectAll("path")
        .data(list)
        .enter().append("path")
        .attr("d", function(d) {
            return line(d.points.slice().sort(function(a, b) { return b[0] - a[0] }))
        })
        .attr("fill", "none")
        .attr("stroke", function(d) { return d.color })
        .attr("stroke-width", sw)
        .attr("stroke-linejoin", "round")
}

drawCurves(curves, 1.8)
drawCurves(noisyCurves, 1.7)

// y axis, minor dots then labelled ticks
const yMinor = d3.range(0, 118).map(function(i) { return 8.38 - i * 0.004 })
svg.append("g").attr("transform", "translate(111,0)")
    .call(d3.axisLeft(y).tickValues(yMinor).tickSize(2).tickFormat(""))
    .call(function(g) { g.select(".domain").remove() })
    .selectAll("line").attr("stroke", "#111").attr("stroke-width", 2)

const yAxis = svg.append("g").attr("transform", "translate(109,0)")
    .call(d3.axisLeft(y).tickValues(yTickLabels).tickSize(6).tickFormat(d3.format(".2f")))
yAxis.select(".domain").remove()
yAxis.selectAll("line").attr("stroke", "#111").attr("stroke-width", 2)
yAxis.selectAll("text")
    .attr("x", -11)
    .attr("font-size", 20)
    .attr("fill", "#333a44")
    .style("font-family", '"Liberation Sans", Arial, sans-serif')
// the top label is pushed down to stay inside the plot
yAxis.selectAll("text").filter(function(d) { return d === 8.38 })
    .attr("dy", "0.6em")

// x axis
const xMinor = d3.range(0, 50).map(function(i) { return 3075 - i * 2.5 })
svg.append("g").attr("transform", "translate(0,1116)")
    .call(d3.axisBottom(x).tickValues(xMinor).tickSize(3).tickFormat(""))
    .call(function(g) { g.select(".domain").remove() })
    .selectAll("line").attr("stroke", "#111").attr("stroke-width", 2)

const xAxis = svg.append("g").attr("transform", "translate(0,1116)")
    .call(d3.axisBottom(x).tickValues(xTickLabels).tickSize(8).tickFormat(d3.format("d")))
xAxis.select(".domain").remove()
xAxis.selectAll("line").attr("stroke", "#111").attr("stroke-width", 2)
xAxis.selectAll("text")
    .attr("x", -4)
    .attr("y", 18)
    .attr("font-size", 20)
    .attr("fill", "#333a44")
    .style("font-family", '"Liberation Sans", Arial, sans-serif')

svg.append("text")
    .attr("x", 1017)
    .attr("y", 1187)
    .attr("font-size", 19.9)
    .attr("fill", "#333a44")
    .text("Wavenumbers (cm-1)")

svg.append("text")
    .attr("transform", "translate(19,563) rotate(-90)")
    .attr("text-anchor", "middle")
    .attr("font-size", 22)
    .attr("fill", "#333a44")
    .text("Single Beam")

// annotations
const notes = [
    {x: 598, y: 1218, text: "Isolated CH4"},
    {x: 598, y: 1272, text: "T=17.75 K"},
    {x: 1286, y: 1223, text: "Bulk CH4"},
    {x: 1286, y: 1276, text: "T=30.5 K"},
]
svg.append("g").selectAll("text")
    .data(notes)
    .enter().append("text")
    .attr("x", function(d) { return d.x })
    .attr("y", function(d) { return d.y })
    .attr("font-size", 47.6)
    .attr("fill", "#000")
    .text(function(d) { return d.text })

const arrows = [
    "M898,1229 C945,1225 975,1180 978.6,1136",
    "M968,1153 L978.6,1135 L988,1154",
    "M1266,1234 C1235,1226 1208,1195 1202.4,1158",
    "M1192,1173 L1202.4,1156 L1213,1173",
]
svg.append("g").selectAll("path")
    .data(arrows)
    .enter().append("path")
    .attr("d", function(d) { return d })
    .attr("fill", "none")
    .attr("stroke", "#ff0000")
    .attr("stroke-width", 4)
</script>
</body>
</html>
